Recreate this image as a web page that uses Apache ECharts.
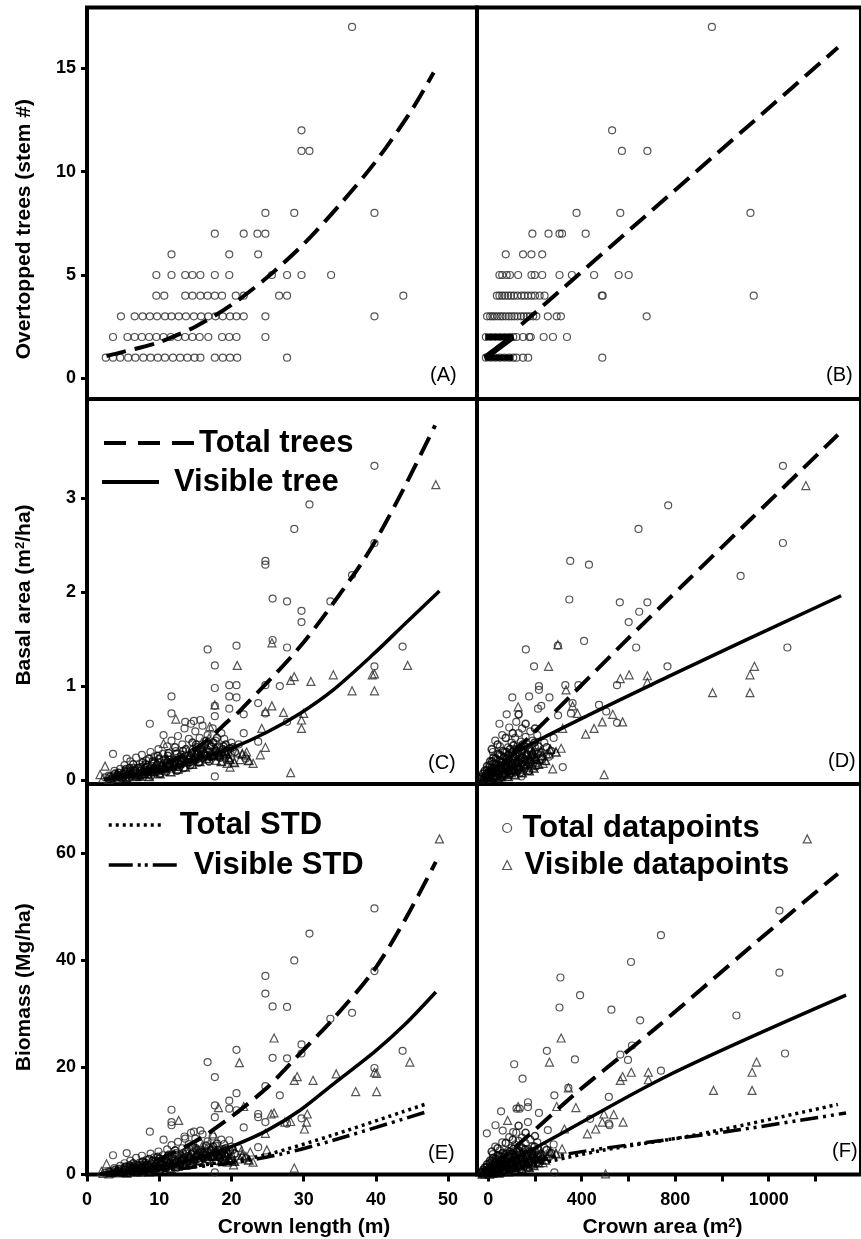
<!DOCTYPE html>
<html>
<head>
<meta charset="utf-8">
<script src="https://cdn.jsdelivr.net/npm/echarts@6/dist/echarts.min.js"></script>
<style>
html, body { margin: 0; padding: 0; background: #fff; }
#main { width: 861px; height: 1239px; }
</style>
</head>
<body>
<div id="main"></div>
<script>
// ticks and labels
var lengthTicks = [0, 10, 20, 30, 40, 50];
var areaTicks = [0, 200, 400, 600, 800, 1000, 1200, 1400];
var areaLabelValues = [0, 400, 800, 1200];
var areaLabels = ['0', '400', '800', '1000'];
var stemTicks = [0, 5, 10, 15];
var basalTicks = [0, 1, 2, 3];
var biomassTicks = [0, 20, 40, 60];

// (A) overtopped stems vs crown length
var stemsByLength = [
    [2.6, 1], [3.6, 1], [4.6, 1], [5.7, 1], [6.7, 1], [7.8, 1], [8.8, 1], [9.8, 1], [10.8, 1], [11.9, 1], [12.9, 1], [13.9, 1], [14.9, 1], [15.7, 1], [17.7, 1], [18.8, 1], [19.8, 1], [20.8, 1], [27.7, 1],
    [3.6, 2], [5.6, 2], [6.6, 2], [7.6, 2], [8.6, 2], [9.6, 2], [10.6, 2], [11.6, 2], [12.6, 2], [13.6, 2], [14.6, 2], [15.6, 2], [16.8, 2], [18.7, 2], [19.7, 2], [20.7, 2], [24.7, 2],
    [4.7, 3], [6.6, 3], [7.7, 3], [8.7, 3], [9.7, 3], [10.8, 3], [11.7, 3], [12.7, 3], [13.7, 3], [14.8, 3], [15.8, 3], [16.8, 3], [17.8, 3], [18.8, 3], [19.8, 3], [20.7, 3], [21.7, 3], [24.7, 3], [39.8, 3],
    [9.6, 4], [10.7, 4], [13.6, 4], [14.6, 4], [15.7, 4], [16.7, 4], [17.7, 4], [18.7, 4], [20.6, 4], [21.7, 4], [26.6, 4], [27.7, 4], [43.8, 4],
    [9.6, 5], [11.7, 5], [13.6, 5], [14.6, 5], [15.7, 5], [17.7, 5], [19.7, 5], [25.6, 5], [27.7, 5], [29.7, 5], [33.8, 5],
    [11.7, 6], [19.7, 6], [23.7, 6],
    [17.7, 7], [21.7, 7], [23.6, 7], [24.7, 7],
    [24.7, 8], [28.7, 8], [39.8, 8],
    [29.7, 11], [30.8, 11], [29.7, 12], [36.7, 17]
];
var stemFitLength = [[2.7, 1.08], [5, 1.28], [10, 1.75], [15, 2.5], [20, 3.55], [25, 4.9], [30, 6.5], [35, 8.4], [40, 10.5], [45, 13.0], [48, 14.8]];

// (B) overtopped stems vs crown area
var stemsByArea = [
    [-10, 1], [10, 1], [30, 1], [50, 1], [70, 1], [90, 1], [107, 1], [121, 1], [149, 1], [171, 1], [488, 1],
    [-10, 2], [10, 2], [30, 2], [50, 2], [70, 2], [90, 2], [107, 2], [121, 2], [149, 2], [175, 2], [182, 2], [237, 2], [277, 2], [337, 2],
    [-5, 3], [8, 3], [18, 3], [28, 3], [40, 3], [52, 3], [62, 3], [75, 3], [88, 3], [100, 3], [112, 3], [125, 3], [140, 3], [152, 3], [165, 3], [178, 3], [192, 3], [206, 3], [255, 3], [293, 3], [311, 3], [678, 3],
    [37, 4], [48, 4], [60, 4], [72, 4], [85, 4], [97, 4], [110, 4], [125, 4], [142, 4], [155, 4], [170, 4], [185, 4], [200, 4], [220, 4], [241, 4], [486, 4], [490, 4], [1136, 4],
    [48, 5], [60, 5], [79, 5], [93, 5], [128, 5], [185, 5], [199, 5], [231, 5], [305, 5], [358, 5], [453, 5], [558, 5], [601, 5],
    [75, 6], [149, 6], [185, 6], [231, 6],
    [189, 7], [258, 7], [305, 7], [316, 7], [417, 7],
    [378, 8], [565, 8], [1122, 8],
    [572, 11], [681, 11], [530, 12], [957, 17]
];
var stemsAreaTrace = [[-13, 2], [105, 2], [-13, 1], [105, 1]];
var stemFitArea = [[142, 2.6], [1496, 16.0]];

// (C) basal area vs crown length
var basalTotalByLength = [
    [39.8, 3.34], [30.8, 2.93], [28.7, 2.67], [24.7, 2.33], [24.7, 2.29], [25.7, 1.93], [27.7, 1.90], [29.7, 1.80], [29.7, 1.68], [33.7, 1.90], [36.7, 2.18], [39.8, 2.52],
    [25.7, 1.49], [27.7, 1.41], [16.7, 1.39], [20.7, 1.43], [17.7, 1.22], [43.7, 1.42], [39.8, 1.21], [19.7, 1.01], [20.7, 1.01], [24.7, 1.01], [26.7, 1.0], [17.7, 0.98],
    [19.7, 0.89], [20.7, 0.88], [11.7, 0.89], [11.7, 0.71], [19.7, 0.76], [17.7, 0.79], [21.7, 0.70], [23.7, 0.82], [24.7, 0.71], [8.7, 0.60], [15.7, 0.64], [14.8, 0.63],
    [13.6, 0.62], [17.7, 0.68], [21.7, 0.50], [23.7, 0.41], [27.7, 0.62], [17.7, 0.04], [10.6, 0.48], [3.6, 0.28], [5.5, 0.23],
    [2.5, 0.03], [3.0, 0.05], [3.5, 0.02], [3.8, 0.10], [4.2, 0.06], [4.6, 0.12], [5.0, 0.04], [5.2, 0.16], [5.6, 0.09], [6.0, 0.20], [6.2, 0.05], [6.5, 0.13], [6.8, 0.24],
    [7.0, 0.08], [7.3, 0.17], [7.6, 0.27], [7.9, 0.11], [8.2, 0.21], [8.5, 0.06], [8.8, 0.30], [9.0, 0.15], [9.3, 0.25], [9.6, 0.09], [9.9, 0.33], [10.2, 0.19], [10.5, 0.28],
    [10.8, 0.12], [11.1, 0.36], [11.4, 0.22], [11.7, 0.42], [12.0, 0.16], [12.3, 0.31], [12.6, 0.47], [12.9, 0.25], [13.2, 0.38], [13.5, 0.55], [13.8, 0.20], [14.1, 0.44],
    [14.4, 0.60], [14.7, 0.33], [15.0, 0.52], [15.3, 0.27], [15.6, 0.45], [16.0, 0.58], [16.3, 0.38], [16.7, 0.48], [17.0, 0.30], [17.4, 0.55], [17.8, 0.42], [18.2, 0.35],
    [18.6, 0.50], [19.0, 0.44], [19.5, 0.28], [20.0, 0.40], [21.0, 0.38], [22.0, 0.23]
];
var basalTotalByLengthCore = [
    [4.0, 0.03], [4.4, 0.08], [4.8, 0.02], [5.1, 0.07], [5.4, 0.12], [5.8, 0.03], [6.1, 0.10], [6.4, 0.17], [6.7, 0.07], [7.1, 0.13], [7.4, 0.04], [7.7, 0.19], [8.0, 0.09],
    [8.3, 0.14], [8.6, 0.23], [8.9, 0.05], [9.2, 0.18], [9.5, 0.12], [9.8, 0.26], [10.1, 0.07], [10.4, 0.15], [10.7, 0.22], [11.0, 0.09], [11.3, 0.29], [11.6, 0.14], [11.9, 0.20],
    [12.2, 0.35], [12.5, 0.10], [12.8, 0.18], [13.1, 0.27], [13.4, 0.13], [13.7, 0.33], [14.0, 0.22], [14.3, 0.16], [14.6, 0.40], [14.9, 0.25], [15.2, 0.35], [15.5, 0.19],
    [15.8, 0.30], [16.1, 0.24], [16.5, 0.42], [16.9, 0.20], [17.2, 0.36], [17.6, 0.26], [18.0, 0.45], [18.4, 0.24], [18.8, 0.33], [19.2, 0.38], [19.8, 0.34], [20.5, 0.30],
    [3.2, 0.04], [3.9, 0.07], [4.5, 0.05], [5.3, 0.10], [5.9, 0.13], [6.6, 0.10], [7.2, 0.06], [7.5, 0.14], [8.1, 0.17], [8.7, 0.12], [9.1, 0.20], [9.7, 0.16], [10.0, 0.23],
    [10.3, 0.10], [10.9, 0.18], [11.2, 0.26], [11.5, 0.17], [12.1, 0.22], [12.4, 0.28], [12.7, 0.14], [13.0, 0.20], [13.3, 0.31], [13.9, 0.26], [14.2, 0.19], [14.5, 0.29],
    [14.8, 0.21], [15.1, 0.38], [15.4, 0.23], [15.7, 0.33], [16.2, 0.28], [16.6, 0.33], [17.1, 0.25], [17.5, 0.40], [17.9, 0.31], [18.3, 0.28], [18.9, 0.36], [19.4, 0.31], [20.2, 0.35]
];
var basalVisibleByLength = [
    [48.3, 3.14], [20.8, 1.22], [25.6, 1.46], [28.7, 1.10], [28.2, 1.06], [31.0, 1.05], [34.1, 1.12], [39.8, 1.13], [39.5, 1.12], [44.4, 1.22], [36.7, 0.95], [39.8, 0.95],
    [17.7, 0.80], [25.6, 0.79], [24.7, 0.73], [27.2, 0.72], [30.0, 0.71], [29.7, 0.64], [29.7, 0.55], [24.2, 0.55], [24.7, 0.35], [24.0, 0.27], [28.2, 0.08], [12.3, 0.65],
    [20.8, 0.29], [22.1, 0.30], [17.0, 0.57], [19.8, 0.14], [1.8, 0.06], [2.5, 0.15], [10.6, 0.39],
    [2.2, 0.02], [3.0, 0.01], [3.6, 0.04], [4.1, 0.02], [4.7, 0.06], [5.3, 0.03], [5.8, 0.08], [6.3, 0.05], [6.9, 0.10], [7.4, 0.04], [7.9, 0.12], [8.4, 0.07], [8.9, 0.14],
    [9.4, 0.09], [9.9, 0.17], [10.4, 0.11], [10.9, 0.20], [11.4, 0.13], [11.9, 0.24], [12.4, 0.16], [12.9, 0.27], [13.4, 0.19], [13.9, 0.31], [14.4, 0.22], [14.9, 0.35],
    [15.4, 0.25], [15.9, 0.40], [16.4, 0.28], [16.9, 0.45], [17.4, 0.32], [17.9, 0.21], [18.4, 0.36], [18.9, 0.26], [19.4, 0.18], [20.0, 0.30], [21.2, 0.22], [22.0, 0.26], [23.0, 0.18]
];
var basalVisibleByLengthCore = [
    [4.3, 0.05], [5.0, 0.09], [5.5, 0.02], [6.0, 0.07], [6.6, 0.12], [7.1, 0.06], [7.6, 0.09], [8.1, 0.15], [8.6, 0.04], [9.1, 0.10], [9.6, 0.19], [10.1, 0.07], [10.6, 0.13],
    [11.1, 0.22], [11.6, 0.09], [12.1, 0.17], [12.6, 0.12], [13.1, 0.22], [13.6, 0.14], [14.1, 0.26], [14.6, 0.17], [15.1, 0.29], [15.6, 0.20], [16.1, 0.34], [16.6, 0.23],
    [17.1, 0.38], [17.6, 0.26], [18.1, 0.30], [18.6, 0.20], [19.1, 0.31], [19.6, 0.24], [20.4, 0.19], [21.5, 0.28], [22.4, 0.21],
    [3.3, 0.03], [4.0, 0.05], [4.9, 0.04], [5.6, 0.07], [6.2, 0.09], [6.8, 0.04], [7.3, 0.11], [7.8, 0.07], [8.3, 0.10], [8.8, 0.09], [9.3, 0.14], [9.8, 0.12], [10.3, 0.16],
    [10.8, 0.14], [11.3, 0.18], [11.8, 0.15], [12.3, 0.20], [12.8, 0.18], [13.3, 0.24], [13.8, 0.20], [14.3, 0.27], [14.8, 0.23], [15.3, 0.31], [15.8, 0.27], [16.3, 0.30],
    [16.8, 0.26], [17.3, 0.28], [17.8, 0.34], [18.3, 0.27], [18.8, 0.30], [19.3, 0.28], [19.8, 0.22]
];
var basalFitTotalLength = [[3.2, 0.02], [9.6, 0.14], [15.7, 0.37], [19.7, 0.64], [21.2, 0.74], [29.5, 1.42], [36.9, 2.18], [40.0, 2.55], [44.0, 3.12], [48.2, 3.77]];
var basalFitVisibleLength = [[2.3, 0.01], [6.4, 0.05], [11.0, 0.12], [15.7, 0.23], [20.3, 0.35], [24.9, 0.51], [29.5, 0.71], [34.1, 0.96], [39.8, 1.35], [44, 1.66], [48.8, 2.01]];

// (D) basal area vs crown area
var basalTotalByArea = [
    [1261, 3.34], [770, 2.92], [643, 2.67], [351, 2.33], [431, 2.29], [1261, 2.52], [1080, 2.17], [347, 1.92], [563, 1.89], [681, 1.89], [646, 1.79], [601, 1.68],
    [298, 1.43], [410, 1.48], [161, 1.39], [633, 1.41], [1280, 1.41], [196, 1.21], [767, 1.21], [217, 1.0], [217, 0.96], [330, 1.01], [386, 1.01], [103, 0.88], [175, 0.89],
    [262, 0.88], [213, 0.76], [227, 0.79], [474, 0.80], [299, 0.69], [361, 0.82], [354, 0.71], [551, 1.01], [505, 0.73], [551, 0.61], [48, 0.60], [79, 0.70], [319, 0.14], [142, 0.04],
    [-20, 0.02], [-10, 0.06], [0, 0.03], [5, 0.10], [10, 0.05], [15, 0.14], [20, 0.08], [25, 0.18], [30, 0.04], [35, 0.12], [40, 0.22], [45, 0.07], [50, 0.16], [55, 0.26],
    [60, 0.10], [65, 0.20], [70, 0.30], [75, 0.13], [80, 0.24], [85, 0.35], [90, 0.17], [95, 0.28], [100, 0.40], [105, 0.21], [110, 0.32], [115, 0.45], [120, 0.25], [125, 0.36],
    [130, 0.50], [135, 0.29], [140, 0.41], [145, 0.55], [150, 0.33], [160, 0.46], [170, 0.38], [180, 0.52], [190, 0.42], [200, 0.35], [210, 0.48], [225, 0.30], [240, 0.40],
    [260, 0.25], [280, 0.45], [30, 0.42], [60, 0.48], [90, 0.56], [120, 0.62], [20, 0.30], [50, 0.36], [100, 0.08], [140, 0.12], [180, 0.20]
];
var basalTotalByAreaCore = [
    [-25, 0.04], [-15, 0.10], [-5, 0.15], [0, 0.08], [8, 0.20], [12, 0.02], [18, 0.12], [22, 0.24], [28, 0.09], [33, 0.17], [38, 0.05], [42, 0.28], [47, 0.13], [52, 0.20],
    [57, 0.04], [62, 0.31], [67, 0.15], [72, 0.08], [77, 0.22], [82, 0.12], [87, 0.27], [92, 0.06], [97, 0.19], [102, 0.30], [107, 0.14], [112, 0.24], [117, 0.09], [122, 0.33],
    [127, 0.18], [132, 0.26], [137, 0.08], [142, 0.22], [147, 0.38], [155, 0.15], [165, 0.28], [175, 0.10], [185, 0.31], [195, 0.24], [205, 0.15], [215, 0.36], [230, 0.22],
    [250, 0.35], [270, 0.31], [105, 0.50], [75, 0.45], [40, 0.38], [15, 0.33], [160, 0.60], [200, 0.55], [130, 0.70],
    [-30, 0.02], [-22, 0.07], [-12, 0.04], [-6, 0.11], [3, 0.06], [6, 0.16], [13, 0.09], [17, 0.20], [23, 0.05], [27, 0.13], [32, 0.23], [37, 0.09], [43, 0.16], [48, 0.27],
    [53, 0.11], [58, 0.19], [63, 0.06], [68, 0.25], [73, 0.16], [78, 0.30], [83, 0.09], [88, 0.21], [93, 0.33], [98, 0.14], [103, 0.25], [108, 0.37], [113, 0.18], [118, 0.28],
    [123, 0.12], [128, 0.22], [133, 0.34], [138, 0.18], [143, 0.30], [148, 0.24], [158, 0.36], [168, 0.22], [178, 0.33], [188, 0.27], [198, 0.40], [212, 0.28]
];
var basalVisibleByArea = [
    [1359, 3.13], [298, 1.44], [258, 1.21], [603, 1.12], [681, 1.11], [681, 1.04], [565, 1.08], [1139, 1.21], [1120, 1.12], [960, 0.93], [1120, 0.93], [496, 0.06],
    [128, 0.78], [361, 0.79], [382, 0.71], [319, 0.55], [417, 0.49], [453, 0.55], [488, 0.62], [533, 0.70], [575, 0.62], [312, 0.34], [276, 0.12], [262, 0.28], [333, 0.96],
    [-15, 0.01], [0, 0.02], [10, 0.04], [20, 0.02], [30, 0.06], [40, 0.03], [50, 0.08], [60, 0.05], [70, 0.10], [80, 0.06], [90, 0.12], [100, 0.08], [110, 0.14], [120, 0.10],
    [130, 0.17], [140, 0.12], [150, 0.20], [160, 0.14], [170, 0.23], [180, 0.16], [190, 0.26], [200, 0.19], [210, 0.30], [220, 0.22], [235, 0.18], [250, 0.28], [180, 0.33], [130, 0.28], [90, 0.22]
];
var basalVisibleByAreaCore = [
    [-20, 0.03], [-5, 0.06], [5, 0.01], [15, 0.09], [25, 0.05], [35, 0.11], [45, 0.02], [55, 0.13], [65, 0.07], [75, 0.15], [85, 0.04], [95, 0.17], [105, 0.11], [115, 0.06],
    [125, 0.20], [135, 0.14], [145, 0.08], [155, 0.24], [165, 0.18], [175, 0.10], [185, 0.28], [195, 0.13], [205, 0.23], [215, 0.17], [230, 0.26], [245, 0.21], [265, 0.33], [290, 0.30],
    [-25, 0.01], [-10, 0.04], [2, 0.07], [12, 0.03], [22, 0.09], [32, 0.05], [42, 0.11], [52, 0.04], [62, 0.14], [72, 0.08], [82, 0.16], [92, 0.10], [102, 0.19], [112, 0.12],
    [122, 0.22], [132, 0.15], [142, 0.25], [152, 0.17], [162, 0.28], [172, 0.20], [182, 0.22], [192, 0.30], [202, 0.25], [225, 0.31]
];
var basalFitTotalArea = [[20, 0.08], [290, 0.74], [572, 1.44], [840, 2.09], [1122, 2.77], [1496, 3.67]];
var basalFitVisibleArea = [[20, 0.10], [149, 0.34], [770, 1.10], [1510, 1.96]];

// (E) biomass vs crown length
var biomassTotalByLength = [
    [39.8, 49.7], [30.8, 45.0], [28.7, 40.0], [24.7, 37.1], [24.7, 33.8], [25.7, 31.4], [27.7, 31.3], [33.7, 29.1], [36.7, 30.2], [39.8, 38.0], [39.8, 19.9], [43.7, 23.1],
    [20.7, 23.3], [16.7, 21.0], [17.7, 18.2], [25.7, 21.8], [27.7, 21.7], [29.7, 24.3], [29.7, 22.6], [24.7, 16.5], [26.7, 14.8], [20.7, 15.2], [19.7, 13.8], [11.7, 12.1],
    [11.7, 9.8], [11.7, 9.2], [17.7, 12.9], [19.7, 12.3], [20.7, 12.0], [17.7, 10.7], [21.7, 8.8], [23.7, 11.3], [23.7, 10.7], [24.7, 9.8], [29.7, 10.5], [27.7, 9.5],
    [8.7, 8.0], [14.8, 8.0], [15.7, 8.2], [13.6, 6.7], [10.6, 6.5], [3.6, 3.6], [5.5, 4.0], [17.7, 0.4], [23.7, 5.1], [19.7, 6.4],
    [2.5, 0.3], [3.0, 0.6], [3.5, 0.2], [3.8, 1.2], [4.2, 0.7], [4.6, 1.6], [5.0, 0.5], [5.2, 2.1], [5.6, 1.1], [6.0, 2.6], [6.2, 0.6], [6.5, 1.7], [6.8, 3.1], [7.0, 1.0],
    [7.3, 2.2], [7.6, 3.5], [7.9, 1.4], [8.2, 2.7], [8.5, 0.8], [8.8, 3.9], [9.0, 1.9], [9.3, 3.2], [9.6, 1.2], [9.9, 4.3], [10.2, 2.4], [10.5, 3.6], [10.8, 1.6], [11.1, 4.7],
    [11.4, 2.8], [11.7, 5.5], [12.0, 2.1], [12.3, 4.0], [12.6, 6.1], [12.9, 3.2], [13.2, 4.9], [13.5, 7.1], [13.8, 2.6], [14.1, 5.7], [14.4, 7.8], [14.7, 4.3], [15.0, 6.7],
    [15.3, 3.5], [15.6, 5.8], [16.0, 7.5], [16.3, 4.9], [16.7, 6.2], [17.0, 3.9], [17.4, 7.1], [17.8, 5.4], [18.2, 4.5], [18.6, 6.5], [19.0, 5.7], [19.5, 3.6], [20.0, 5.2],
    [21.0, 4.9], [22.0, 3.0]
];
var biomassTotalByLengthCore = [
    [4.0, 0.4], [4.4, 1.0], [4.8, 0.3], [5.1, 0.9], [5.4, 1.5], [5.8, 0.4], [6.1, 1.3], [6.4, 2.1], [6.7, 0.9], [7.1, 1.7], [7.4, 0.5], [7.7, 2.4], [8.0, 1.2], [8.3, 1.8],
    [8.6, 2.9], [8.9, 0.7], [9.2, 2.3], [9.5, 1.6], [9.8, 3.3], [10.1, 0.9], [10.4, 1.9], [10.7, 2.8], [11.0, 1.2], [11.3, 3.7], [11.6, 1.8], [11.9, 2.6], [12.2, 4.5],
    [12.5, 1.3], [12.8, 2.3], [13.1, 3.5], [13.4, 1.7], [13.7, 4.3], [14.0, 2.8], [14.3, 2.1], [14.6, 5.2], [14.9, 3.2], [15.2, 4.5], [15.5, 2.5], [15.8, 3.9], [16.1, 3.1],
    [16.5, 5.4], [16.9, 2.6], [17.2, 4.6], [17.6, 3.4], [18.0, 5.8], [18.4, 3.1], [18.8, 4.3], [19.2, 4.9], [19.8, 4.4], [20.5, 3.9],
    [3.2, 0.5], [3.9, 0.9], [4.5, 0.6], [5.3, 1.3], [5.9, 1.7], [6.6, 1.3], [7.2, 0.8], [7.5, 1.8], [8.1, 2.2], [8.7, 1.6], [9.1, 2.6], [9.7, 2.1], [10.0, 3.0], [10.3, 1.3],
    [10.9, 2.3], [11.2, 3.4], [11.5, 2.2], [12.1, 2.9], [12.4, 3.6], [12.7, 1.8], [13.0, 2.6], [13.3, 4.0], [13.9, 3.4], [14.2, 2.5], [14.5, 3.8], [14.8, 2.7], [15.1, 4.9],
    [15.4, 3.0], [15.7, 4.3], [16.2, 3.6], [16.6, 4.3], [17.1, 3.3], [17.5, 5.2], [17.9, 4.0], [18.3, 3.6], [18.9, 4.7], [19.4, 4.0], [20.2, 4.6]
];
var biomassVisibleByLength = [
    [48.8, 62.7], [44.7, 21.0], [25.9, 25.5], [21.1, 20.9], [34.5, 18.8], [31.3, 17.6], [29.1, 18.3], [28.7, 17.6], [37.2, 15.5], [40.1, 15.5], [39.8, 19.1], [40.1, 18.9],
    [25.9, 11.5], [25.5, 11.3], [30.5, 11.3], [30.4, 9.8], [30.1, 8.5], [27.4, 9.8], [28.2, 9.9], [24.7, 7.7], [28.7, 1.2], [21.7, 12.7], [18.2, 12.5], [12.7, 10.1],
    [24.9, 4.6], [22.6, 4.2], [20.3, 1.8], [2.7, 2.0], [2.0, 0.6], [17.5, 7.6], [21.4, 4.5],
    [2.2, 0.2], [3.0, 0.1], [3.6, 0.5], [4.1, 0.3], [4.7, 0.8], [5.3, 0.4], [5.8, 1.0], [6.3, 0.6], [6.9, 1.3], [7.4, 0.5], [7.9, 1.6], [8.4, 0.9], [8.9, 1.8], [9.4, 1.2],
    [9.9, 2.2], [10.4, 1.4], [10.9, 2.6], [11.4, 1.7], [11.9, 3.1], [12.4, 2.1], [12.9, 3.5], [13.4, 2.5], [13.9, 4.0], [14.4, 2.8], [14.9, 4.5], [15.4, 3.2], [15.9, 5.2],
    [16.4, 3.6], [16.9, 5.8], [17.4, 4.1], [17.9, 2.7], [18.4, 4.7], [18.9, 3.4], [19.4, 2.3], [20.0, 3.9], [21.2, 2.9], [22.0, 3.4], [23.0, 2.3]
];
var biomassVisibleByLengthCore = [
    [4.3, 0.6], [5.0, 1.2], [5.5, 0.3], [6.0, 0.9], [6.6, 1.6], [7.1, 0.8], [7.6, 1.2], [8.1, 1.9], [8.6, 0.5], [9.1, 1.3], [9.6, 2.5], [10.1, 0.9], [10.6, 1.7], [11.1, 2.9],
    [11.6, 1.2], [12.1, 2.2], [12.6, 1.6], [13.1, 2.9], [13.6, 1.8], [14.1, 3.4], [14.6, 2.2], [15.1, 3.8], [15.6, 2.6], [16.1, 4.4], [16.6, 3.0], [17.1, 4.9], [17.6, 3.4],
    [18.1, 3.9], [18.6, 2.6], [19.1, 4.0], [19.6, 3.1], [20.4, 2.5], [21.5, 3.6], [22.4, 2.7],
    [3.3, 0.4], [4.0, 0.6], [4.9, 0.5], [5.6, 0.9], [6.2, 1.2], [6.8, 0.5], [7.3, 1.4], [7.8, 0.9], [8.3, 1.3], [8.8, 1.2], [9.3, 1.8], [9.8, 1.6], [10.3, 2.1], [10.8, 1.8],
    [11.3, 2.3], [11.8, 2.0], [12.3, 2.6], [12.8, 2.3], [13.3, 3.1], [13.8, 2.6], [14.3, 3.5], [14.8, 3.0], [15.3, 4.0], [15.8, 3.5], [16.3, 3.9], [16.8, 3.4], [17.3, 3.6],
    [17.8, 4.4], [18.3, 3.5], [18.8, 3.9], [19.3, 3.6], [19.8, 2.9]
];
var biomassFitTotalLength = [[2, 0.15], [5, 0.8], [10, 2.9], [15, 6.2], [20, 10.8], [25, 16.3], [28, 20.5], [34.1, 29.1], [39.7, 38.1], [44, 47.5], [48.3, 58.4]];
var biomassFitVisibleLength = [[1.8, 0.1], [6.4, 0.75], [11.0, 1.7], [15.7, 3.2], [20.3, 5.4], [24.9, 8.2], [29.5, 12.0], [34.1, 16.9], [39.8, 22.9], [44, 28.0], [48.3, 34.1]];
var biomassStdTotalLength = [[2, 0.05], [10, 0.8], [15, 1.6], [20.3, 2.6], [24.9, 3.7], [34.1, 7.4], [47.0, 13.2]];
var biomassStdVisibleLength = [[2, 0.05], [10, 0.7], [15, 1.4], [20.3, 2.2], [27.2, 3.9], [34.1, 6.4], [47.0, 11.7]];

// (F) biomass vs crown area
var biomassTotalByArea = [
    [1246, 49.3], [739, 44.7], [611, 39.7], [309, 36.8], [393, 33.5], [305, 31.2], [527, 30.8], [650, 28.8], [1062, 29.7], [1246, 37.7], [1270, 22.6], [615, 24.1],
    [565, 22.4], [598, 21.4], [251, 23.1], [371, 21.5], [111, 20.6], [147, 17.9], [739, 19.4], [343, 16.2], [283, 14.8], [516, 14.5], [170, 13.5], [121, 12.3], [135, 12.3],
    [170, 12.6], [55, 11.8], [217, 11.5], [170, 9.8], [255, 8.3], [436, 10.4], [516, 9.5], [519, 9.2], [283, 0.4], [-6, 7.7], [31, 9.2], [62, 8.2], [107, 7.9],
    [-20, 0.3], [-10, 0.8], [0, 0.4], [5, 1.3], [10, 0.7], [15, 1.8], [20, 1.0], [25, 2.3], [30, 0.5], [35, 1.6], [40, 2.8], [45, 0.9], [50, 2.1], [55, 3.3], [60, 1.3],
    [65, 2.6], [70, 3.8], [75, 1.7], [80, 3.1], [85, 4.4], [90, 2.2], [95, 3.6], [100, 5.0], [105, 2.7], [110, 4.1], [115, 5.6], [120, 3.2], [125, 4.6], [130, 6.3],
    [135, 3.7], [140, 5.2], [145, 6.9], [150, 4.2], [160, 5.8], [170, 4.8], [180, 6.5], [190, 5.3], [200, 4.4], [210, 6.0], [225, 3.8], [240, 5.0], [260, 3.2], [280, 5.6],
    [30, 5.2], [60, 6.0], [90, 7.0], [120, 7.8], [20, 3.8], [50, 4.5], [100, 1.0], [140, 1.5], [180, 2.5]
];
var biomassTotalByAreaCore = [
    [-25, 0.5], [-15, 1.3], [-5, 1.9], [0, 1.0], [8, 2.6], [12, 0.3], [18, 1.6], [22, 3.1], [28, 1.2], [33, 2.2], [38, 0.6], [42, 3.6], [47, 1.7], [52, 2.6], [57, 0.5],
    [62, 4.0], [67, 1.9], [72, 1.0], [77, 2.9], [82, 1.6], [87, 3.5], [92, 0.8], [97, 2.5], [102, 3.9], [107, 1.8], [112, 3.1], [117, 1.2], [122, 4.3], [127, 2.3], [132, 3.4],
    [137, 1.0], [142, 2.9], [147, 4.9], [155, 2.0], [165, 3.6], [175, 1.3], [185, 4.0], [195, 3.1], [205, 2.0], [215, 4.7], [230, 2.9], [250, 4.6], [270, 4.0], [105, 6.5],
    [75, 5.9], [40, 4.9], [15, 4.3], [160, 7.8], [200, 7.2], [130, 9.1],
    [-30, 0.3], [-22, 0.9], [-12, 0.5], [-6, 1.4], [3, 0.8], [6, 2.1], [13, 1.2], [17, 2.6], [23, 0.7], [27, 1.7], [32, 3.0], [37, 1.2], [43, 2.1], [48, 3.5], [53, 1.4],
    [58, 2.5], [63, 0.8], [68, 3.3], [73, 2.1], [78, 3.9], [83, 1.2], [88, 2.7], [93, 4.3], [98, 1.8], [103, 3.3], [108, 4.8], [113, 2.3], [118, 3.6], [123, 1.6], [128, 2.9],
    [133, 4.4], [138, 2.3], [143, 3.9], [148, 3.1], [158, 4.7], [168, 2.9], [178, 4.3], [188, 3.5], [198, 5.2], [212, 3.6]
];
var biomassVisibleByArea = [
    [1365, 62.7], [312, 25.5], [262, 21.0], [1148, 21.0], [1129, 19.1], [1129, 15.7], [964, 15.7], [612, 19.1], [685, 19.1], [685, 17.7], [575, 18.3], [565, 17.6],
    [343, 16.2], [293, 12.7], [375, 12.5], [83, 10.1], [128, 12.7], [495, 11.3], [488, 9.8], [577, 9.8], [460, 8.5], [424, 7.6], [502, 0.1], [537, 11.2], [326, 8.5],
    [316, 4.8], [262, 3.9],
    [-15, 0.1], [0, 0.3], [10, 0.5], [20, 0.2], [30, 0.8], [40, 0.4], [50, 1.0], [60, 0.6], [70, 1.3], [80, 0.8], [90, 1.5], [100, 1.0], [110, 1.8], [120, 1.3], [130, 2.1],
    [140, 1.5], [150, 2.5], [160, 1.8], [170, 2.9], [180, 2.0], [190, 3.3], [200, 2.4], [210, 3.8], [220, 2.8], [235, 2.2], [250, 3.5], [180, 4.2], [130, 3.5], [90, 2.8]
];
var biomassVisibleByAreaCore = [
    [-20, 0.4], [-5, 0.8], [5, 0.1], [15, 1.2], [25, 0.6], [35, 1.4], [45, 0.3], [55, 1.7], [65, 0.9], [75, 2.0], [85, 0.5], [95, 2.2], [105, 1.4], [115, 0.8], [125, 2.6],
    [135, 1.8], [145, 1.0], [155, 3.1], [165, 2.3], [175, 1.3], [185, 3.6], [195, 1.7], [205, 3.0], [215, 2.2], [230, 3.4], [245, 2.7], [265, 4.3], [290, 3.9],
    [-25, 0.1], [-10, 0.5], [2, 0.9], [12, 0.4], [22, 1.2], [32, 0.7], [42, 1.4], [52, 0.5], [62, 1.8], [72, 1.0], [82, 2.1], [92, 1.3], [102, 2.5], [112, 1.6], [122, 2.9],
    [132, 2.0], [142, 3.3], [152, 2.2], [162, 3.6], [172, 2.6], [182, 2.9], [192, 3.9], [202, 3.3], [225, 4.0]
];
var biomassFitTotalArea = [[20, 1.5], [178, 7.5], [389, 15.7], [713, 27.2], [1122, 42.5], [1496, 56.2]];
var biomassFitVisibleArea = [[20, 1.0], [206, 5.1], [770, 18.5], [1531, 33.5]];
var biomassStdTotalArea = [[20, 0.5], [164, 1.4], [276, 2.6], [488, 4.5], [911, 7.6], [1496, 13.1]];
var biomassStdVisibleArea = [[20, 0.4], [206, 2.5], [347, 3.9], [629, 5.7], [1052, 8.2], [1531, 11.5]];

var FONT = "'Liberation Sans', Arial, sans-serif";
var INK = '#000';
var MARK = '#2a2a2a';

var dashedStyle = { color: INK, width: 4, type: [20, 9] };
var solidStyle = { color: INK, width: 3.5, type: 'solid' };
var dottedStyle = { color: INK, width: 3.5, type: [3, 4] };
var dashDotStyle = { color: INK, width: 3.5, type: [18, 5, 3, 5, 3, 5] };

var chart = echarts.init(document.getElementById('main'));

// heavy = the crowded clusters near the origin, printed darker in the figure
function pts(name, data, idx, symbol, heavy) {
    return {
        type: 'scatter', name: name, xAxisIndex: idx, yAxisIndex: idx, data: data,
        symbol: symbol, symbolSize: symbol === 'triangle' ? 8 : 7, z: 2, silent: true,
        itemStyle: { color: 'transparent', borderColor: heavy ? '#000' : MARK, borderWidth: heavy ? 1.6 : 1.2 }
    };
}

function fit(name, data, idx, style, smooth) {
    return {
        type: 'line', name: name, xAxisIndex: idx, yAxisIndex: idx, data: data,
        symbol: 'none', smooth: smooth === undefined ? 0.3 : smooth, z: 3, silent: true,
        itemStyle: { color: INK }, lineStyle: style
    };
}

function lengthAxis(idx, withLabels) {
    return {
        type: 'value', gridIndex: idx, min: 0, max: 54,
        axisLine: { show: false }, splitLine: { show: false },
        axisTick: { show: withLabels, customValues: lengthTicks, length: 7, lineStyle: { color: INK, width: 3 } },
        axisLabel: { show: withLabels, customValues: lengthTicks, margin: 17, color: INK, fontSize: 18, fontWeight: 'bold', fontFamily: FONT }
    };
}

function areaAxis(idx, withLabels) {
    return {
        type: 'value', gridIndex: idx, min: -48, max: 1595,
        axisLine: { show: false }, splitLine: { show: false },
        axisTick: { show: withLabels, customValues: areaTicks, length: 7, lineStyle: { color: INK, width: 3 } },
        axisLabel: {
            show: withLabels, customValues: areaLabelValues, margin: 17, color: INK, fontSize: 18, fontWeight: 'bold', fontFamily: FONT,
            formatter: function (v) {
                var i = areaLabelValues.indexOf(v);
                return i >= 0 ? areaLabels[i] : '';
            }
        }
    };
}

function yAxisOf(idx, min, max, ticks, withLabels) {
    return {
        type: 'value', gridIndex: idx, min: min, max: max,
        axisLine: { show: false }, splitLine: { show: false },
        axisTick: { show: withLabels, customValues: ticks, length: 6, lineStyle: { color: INK, width: 3 } },
        axisLabel: { show: withLabels, customValues: ticks, margin: 11, color: INK, fontSize: 18, fontWeight: 'bold', fontFamily: FONT }
    };
}

var nameStyle = {
    color: INK, fontSize: 21, fontWeight: 'bold', fontFamily: FONT,
    rich: { s: { fontSize: 13, fontWeight: 'bold', fontFamily: FONT, color: INK, verticalAlign: 'top', lineHeight: 13 } }
};

function yName(axis, text, gap, shift) {
    axis.name = text;
    axis.nameLocation = 'middle';
    axis.nameRotate = 90;
    axis.nameGap = gap;
    axis.nameTextStyle = Object.assign({}, nameStyle, { padding: [0, shift, 0, 0] });
    return axis;
}

function xName(axis, text, gap, padL, padR) {
    axis.name = text;
    axis.nameLocation = 'middle';
    axis.nameGap = gap;
    axis.nameTextStyle = Object.assign({}, nameStyle, { padding: [0, padR, 0, padL] });
    return axis;
}

var frame = { show: true, borderColor: INK, borderWidth: 4, backgroundColor: 'transparent' };
var grids = [
    Object.assign({ left: 87, top: 7.5, width: 390, height: 391.5 }, frame),
    Object.assign({ left: 477, top: 7.5, width: 389, height: 391.5 }, frame),
    Object.assign({ left: 87, top: 399, width: 390, height: 385 }, frame),
    Object.assign({ left: 477, top: 399, width: 389, height: 385 }, frame),
    Object.assign({ left: 87, top: 784, width: 390, height: 390.5 }, frame),
    Object.assign({ left: 477, top: 784, width: 389, height: 390.5 }, frame)
];

function legendItem(name, left, top, width, height, extra, textPad) {
    return Object.assign({
        data: [name], left: left, top: top, padding: 0, selectedMode: false,
        itemWidth: width, itemHeight: height,
        textStyle: { color: INK, fontSize: 31, fontWeight: 'bold', fontFamily: FONT, lineHeight: 34, padding: [0, 0, 0, textPad] }
    }, extra);
}

var hiddenSymbol = { itemStyle: { opacity: 0 } };

var panelLabel = function (text, left, top) {
    return { text: text, left: left, top: top, padding: 0, textStyle: { color: INK, fontSize: 20, fontWeight: 'normal', fontFamily: FONT } };
};

chart.setOption({
    animation: false,
    backgroundColor: '#fff',
    grid: grids,
    title: [
        panelLabel('(A)', 430, 365), panelLabel('(B)', 826, 365),
        panelLabel('(C)', 428, 753), panelLabel('(D)', 828, 751),
        panelLabel('(E)', 428, 1143), panelLabel('(F)', 832, 1141)
    ],
    legend: [
        legendItem('Total trees', 102, 426, 90, 14, Object.assign({ lineStyle: { color: INK, width: 4, type: [22, 12] } }, hiddenSymbol), 0),
        legendItem('Visible tree', 100, 465, 57, 14, Object.assign({ lineStyle: { color: INK, width: 4, type: 'solid' } }, hiddenSymbol), 10),
        legendItem('Total STD', 107, 808, 53, 14, Object.assign({ lineStyle: { color: INK, width: 3.5, type: [3, 4] } }, hiddenSymbol), 13),
        legendItem('Visible STD', 107, 848, 71, 14, Object.assign({ lineStyle: { color: INK, width: 3.5, type: [24, 5, 3, 4, 3, 5] } }, hiddenSymbol), 9),
        legendItem('Total datapoints', 502, 811, 9, 9, { icon: 'circle', itemStyle: { color: 'transparent', borderColor: MARK, borderWidth: 1.2 } }, 6),
        legendItem('Visible datapoints', 502, 848, 9, 9, { icon: 'triangle', itemStyle: { color: 'transparent', borderColor: MARK, borderWidth: 1.2 } }, 8)
    ],
    xAxis: [
        lengthAxis(0, false), areaAxis(1, false),
        lengthAxis(2, false), areaAxis(3, false),
        xName(lengthAxis(4, true), 'Crown length (m)', 42, 44, 0),
        xName(areaAxis(5, true), 'Crown area (m{s|2})', 42, 0, 13)
    ],
    yAxis: [
        yName(yAxisOf(0, -1, 17.94, stemTicks, true), 'Overtopped trees (stem #)', 52, 52),
        yAxisOf(1, -1, 17.94, stemTicks, false),
        yName(yAxisOf(2, -0.04, 4.05, basalTicks, true), 'Basal area (m{s|2}/ha)', 52, 7),
        yAxisOf(3, -0.04, 4.05, basalTicks, false),
        yName(yAxisOf(4, 0, 72.95, biomassTicks, true), 'Biomass (Mg/ha)', 52, 16),
        yAxisOf(5, 0, 72.95, biomassTicks, false)
    ],
    series: [
        pts('Total datapoints', stemsByLength, 0, 'circle'),
        fit('Total trees', stemFitLength, 0, dashedStyle),
        pts('Total datapoints', stemsByArea, 1, 'circle'),
        fit('Total datapoints trace', stemsAreaTrace, 1, { color: INK, width: 6, type: 'solid' }, false),
        fit('Total trees', stemFitArea, 1, dashedStyle, false),

        pts('Total datapoints', basalTotalByLength, 2, 'circle'),
        pts('Total datapoints', basalTotalByLengthCore, 2, 'circle', true),
        pts('Visible datapoints', basalVisibleByLength, 2, 'triangle'),
        pts('Visible datapoints', basalVisibleByLengthCore, 2, 'triangle', true),
        fit('Total trees', basalFitTotalLength, 2, dashedStyle),
        fit('Visible tree', basalFitVisibleLength, 2, solidStyle),

        pts('Total datapoints', basalTotalByArea, 3, 'circle'),
        pts('Total datapoints', basalTotalByAreaCore, 3, 'circle', true),
        pts('Visible datapoints', basalVisibleByArea, 3, 'triangle'),
        pts('Visible datapoints', basalVisibleByAreaCore, 3, 'triangle', true),
        fit('Total trees', basalFitTotalArea, 3, dashedStyle),
        fit('Visible tree', basalFitVisibleArea, 3, solidStyle),

        pts('Total datapoints', biomassTotalByLength, 4, 'circle'),
        pts('Total datapoints', biomassTotalByLengthCore, 4, 'circle', true),
        pts('Visible datapoints', biomassVisibleByLength, 4, 'triangle'),
        pts('Visible datapoints', biomassVisibleByLengthCore, 4, 'triangle', true),
        fit('Total trees', biomassFitTotalLength, 4, dashedStyle),
        fit('Visible tree', biomassFitVisibleLength, 4, solidStyle),
        fit('Total STD', biomassStdTotalLength, 4, dottedStyle),
        fit('Visible STD', biomassStdVisibleLength, 4, dashDotStyle),

        pts('Total datapoints', biomassTotalByArea, 5, 'circle'),
        pts('Total datapoints', biomassTotalByAreaCore, 5, 'circle', true),
        pts('Visible datapoints', biomassVisibleByArea, 5, 'triangle'),
        pts('Visible datapoints', biomassVisibleByAreaCore, 5, 'triangle', true),
        fit('Total trees', biomassFitTotalArea, 5, dashedStyle),
        fit('Visible tree', biomassFitVisibleArea, 5, solidStyle),
        fit('Total STD', biomassStdTotalArea, 5, dottedStyle),
        fit('Visible STD', biomassStdVisibleArea, 5, dashDotStyle)
    ]
});
</script>
</body>
</html>
